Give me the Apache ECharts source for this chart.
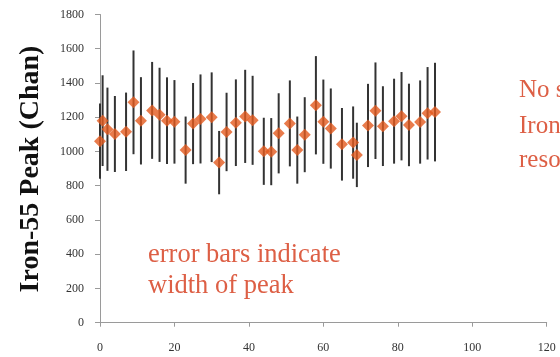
<!DOCTYPE html>
<html>
<head>
<meta charset="utf-8">
<script src="https://cdn.jsdelivr.net/npm/echarts@6/dist/echarts.min.js"></script>
<style>
  html, body { margin: 0; padding: 0; background: #fff; }
  #chart { width: 560px; height: 357px; }
</style>
</head>
<body>
<div id="chart"></div>
<script>
// Iron-55 peak position (channel) per run, with peak width as error bar
const runX = [0, 0.7, 2, 4, 7, 9, 11, 14, 16, 18, 20, 23, 25, 27, 30, 32, 34, 36.5, 39, 41,
              44, 46, 48, 51, 53, 55, 58, 60, 62, 65, 68, 69, 72, 74, 76, 79, 81, 83, 86, 88, 90];
const peakChan = [1060, 1180, 1130, 1102, 1115, 1287, 1179, 1240, 1214, 1180, 1173, 1008, 1163, 1190, 1200, 935, 1114, 1168, 1205, 1182,
                  1001, 999, 1106, 1164, 1008, 1098, 1270, 1174, 1134, 1042, 1052, 980, 1152, 1238, 1148, 1177, 1206, 1155, 1172, 1223, 1230];
const peakWidth = [220, 265, 243, 222, 229, 303, 255, 283, 275, 253, 244, 196, 237, 260, 262, 185, 229, 253, 272, 260,
                   196, 196, 234, 251, 196, 219, 287, 246, 234, 212, 211, 188, 243, 282, 233, 248, 258, 241, 243, 270, 288];
const xTicks = [0, 20, 40, 60, 80, 100, 120];
const yTicks = [0, 200, 400, 600, 800, 1000, 1200, 1400, 1600, 1800];

const points = runX.map((x, i) => [x, peakChan[i]]);
const bars = runX.map((x, i) => [x, peakChan[i] - peakWidth[i], peakChan[i] + peakWidth[i]]);

const serif = '"Liberation Serif", "DejaVu Serif", serif';
const accent = '#DD5F45';
const plain = v => String(v);

const chart = echarts.init(document.getElementById('chart'), null, { renderer: 'canvas' });
chart.setOption({
  animation: false,
  backgroundColor: '#ffffff',
  grid: { left: 100, right: 13.3, top: 14.5, bottom: 34.3, containLabel: false },
  xAxis: {
    type: 'value',
    min: xTicks[0], max: xTicks[xTicks.length - 1], interval: 20,
    axisLine: { show: true, lineStyle: { color: '#9a9a9a', width: 1 } },
    axisTick: { show: true, inside: false, length: 4, lineStyle: { color: '#9a9a9a' } },
    splitLine: { show: false },
    axisLabel: { margin: 19, color: '#333', fontFamily: serif, fontSize: 12, formatter: plain }
  },
  yAxis: {
    type: 'value',
    min: yTicks[0], max: yTicks[yTicks.length - 1], interval: 200,
    axisLine: { show: true, lineStyle: { color: '#9a9a9a', width: 1 } },
    axisTick: { show: true, inside: false, length: 5, lineStyle: { color: '#9a9a9a' } },
    splitLine: { show: false },
    axisLabel: { margin: 16, color: '#333', fontFamily: serif, fontSize: 12, formatter: plain }
  },
  series: [
    {
      // vertical error bars: peak ± width
      type: 'custom',
      data: bars,
      z: 1,
      renderItem: function (params, api) {
        const top = api.coord([api.value(0), api.value(2)]);
        const bot = api.coord([api.value(0), api.value(1)]);
        return {
          type: 'line',
          shape: { x1: top[0], y1: top[1], x2: bot[0], y2: bot[1] },
          style: { stroke: '#333333', lineWidth: 2 }
        };
      },
      encode: { x: 0, y: [1, 2] }
    },
    {
      type: 'scatter',
      data: points,
      z: 2,
      symbol: 'diamond',
      symbolSize: 12,
      itemStyle: { color: '#E35A1E' }
    }
  ],
  graphic: [
    {
      type: 'text', x: 31, y: 169, rotation: Math.PI / 2,
      style: { text: 'Iron-55 Peak (Chan)', fill: '#111', font: 'bold 28px ' + serif,
               textAlign: 'center', textVerticalAlign: 'middle' }
    },
    {
      type: 'text', x: 148, y: 255,
      style: { text: 'error bars indicate', fill: accent, font: '26.5px ' + serif,
               textAlign: 'left', textVerticalAlign: 'middle' }
    },
    {
      type: 'text', x: 148, y: 286,
      style: { text: 'width of peak', fill: accent, font: '26.5px ' + serif,
               textAlign: 'left', textVerticalAlign: 'middle' }
    },
    {
      type: 'text', x: 519, y: 90,
      style: { text: 'No shift in', fill: accent, font: '25px ' + serif,
               textAlign: 'left', textVerticalAlign: 'middle' }
    },
    {
      type: 'text', x: 519, y: 126,
      style: { text: 'Iron peak', fill: accent, font: '25px ' + serif,
               textAlign: 'left', textVerticalAlign: 'middle' }
    },
    {
      type: 'text', x: 519, y: 160,
      style: { text: 'resolution', fill: accent, font: '25px ' + serif,
               textAlign: 'left', textVerticalAlign: 'middle' }
    }
  ]
});
</script>
</body>
</html>
